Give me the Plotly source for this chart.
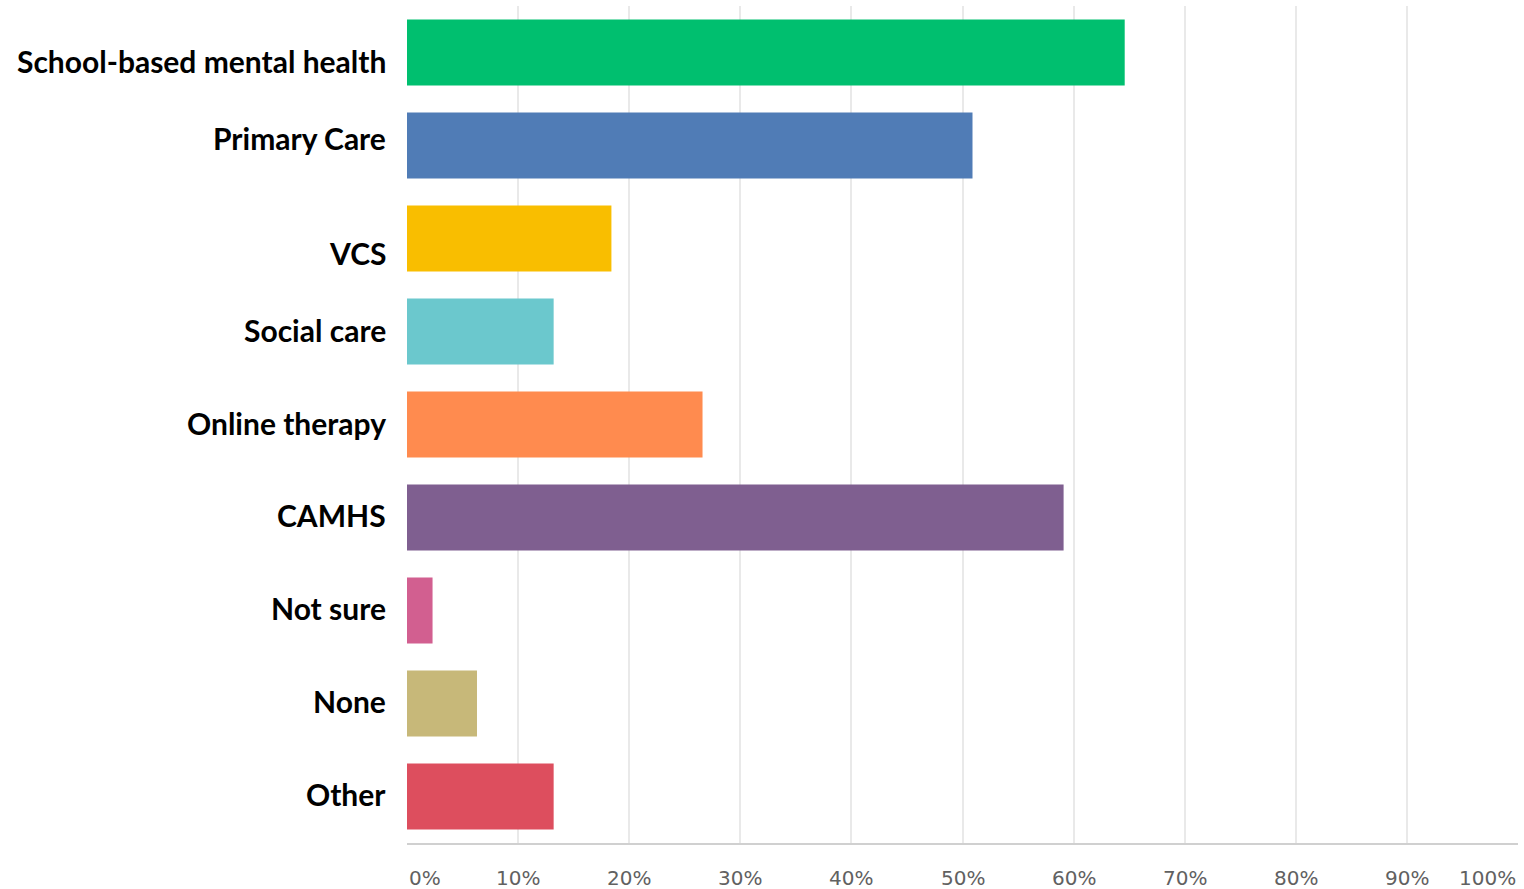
import plotly.graph_objects as go

# Services named in responses (share of respondents, %)
categories = [
    "School-based mental health",
    "Primary Care",
    "VCS",
    "Social care",
    "Online therapy",
    "CAMHS",
    "Not sure",
    "None",
    "Other",
]
percentages = [64.6, 50.9, 18.4, 13.2, 26.6, 59.1, 2.3, 6.3, 13.2]
bar_colors = [
    "#00bf6f", "#507cb6", "#f9be00", "#6bc8cd", "#ff8b4f",
    "#7f5f90", "#d25f90", "#c7b879", "#dd4e5e",
]
tick_values = [0, 10, 20, 30, 40, 50, 60, 70, 80, 90, 100]
tick_labels = [f"{v}%" for v in tick_values]

fig = go.Figure(
    go.Bar(
        x=percentages,
        y=categories,
        orientation="h",
        marker=dict(color=bar_colors, line=dict(width=0)),
        width=0.71,
        hoverinfo="x+y",
    )
)

annotations = []

# Category names, placed as free text to the left of each bar
label_nudge = [-8, 8, -14, 2, 2, 3, 3, 3, 3]
for cat, dy in zip(categories, label_nudge):
    annotations.append(
        dict(
            x=0, y=cat, xref="paper", yref="y",
            text=f"<b>{cat}</b>", showarrow=False,
            xanchor="right", yanchor="middle", xshift=-19, yshift=dy,
            font=dict(family="Lato", size=30, color="#000000"),
        )
    )

# Percentage labels under the axis; the end labels are kept inside the plot width
for v, t in zip(tick_values, tick_labels):
    anchor = "left" if v == 0 else ("right" if v == 100 else "center")
    annotations.append(
        dict(
            x=v, y=0, xref="x", yref="paper",
            text=t, showarrow=False,
            xanchor=anchor, yanchor="middle", yshift=-35,
            font=dict(family="DejaVu Sans", size=20, color="#616161"),
        )
    )

fig.update_layout(
    width=1524,
    height=889,
    margin=dict(l=407, r=6, t=6, b=46),
    paper_bgcolor="white",
    plot_bgcolor="white",
    showlegend=False,
    bargap=0.29,
    annotations=annotations,
    xaxis=dict(
        range=[0, 100],
        tickvals=tick_values,
        showticklabels=False,
        showgrid=True,
        gridcolor="#e9e9e9",
        gridwidth=2,
        zeroline=False,
        showline=True,
        linecolor="#d0d0d0",
        linewidth=2,
        fixedrange=True,
    ),
    yaxis=dict(
        categoryorder="array",
        categoryarray=categories,
        autorange="reversed",
        showgrid=False,
        zeroline=False,
        showline=False,
        showticklabels=False,
        ticks="",
        fixedrange=True,
    ),
)

fig.write_html("out.html")
